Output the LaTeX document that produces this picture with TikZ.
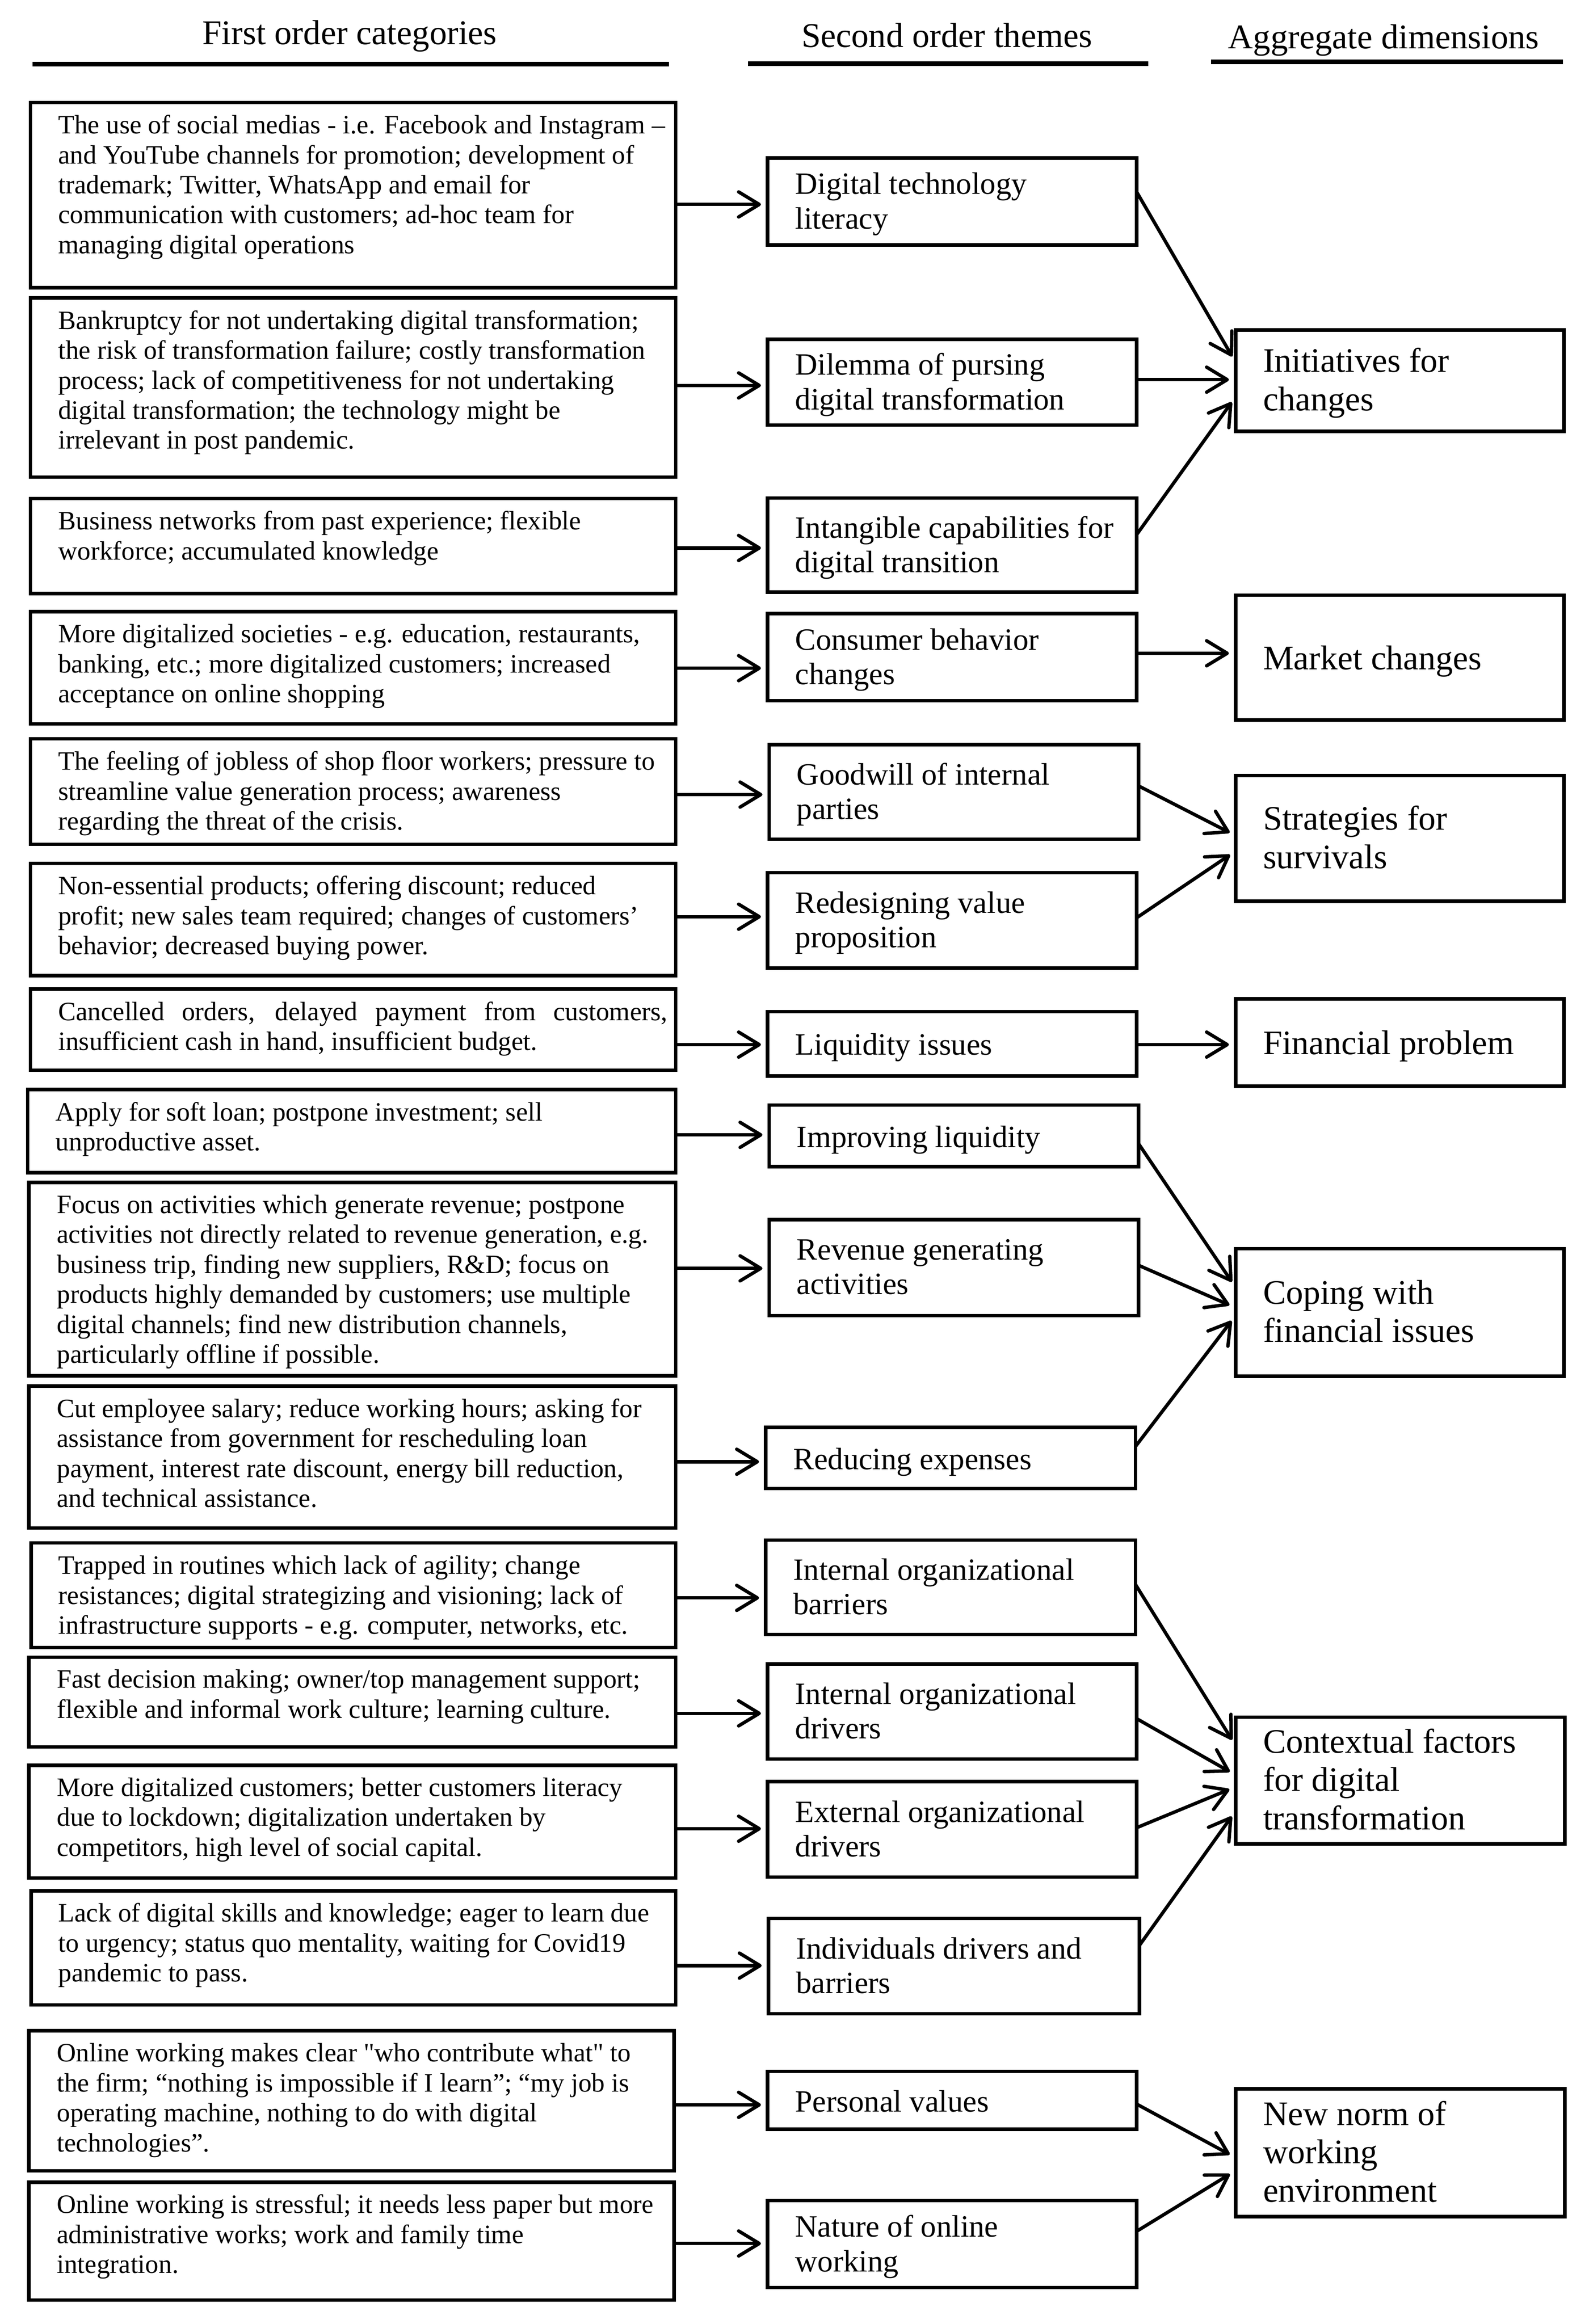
\documentclass[tikz,border=0pt]{standalone}
\usepackage{fontspec}
\setmainfont{Liberation Serif}
\usetikzlibrary{arrows.meta}
\newcommand\lfont{\fontsize{18}{20.3}\selectfont}
\newcommand\mfont{\fontsize{21}{23.4}\selectfont}
\newcommand\rfont{\fontsize{23.3}{26}\selectfont}
\newcommand\hfont{\fontsize{23.5}{28}\selectfont}
\begin{document}
\begin{tikzpicture}[x=1pt,y=-1pt,
  bx/.style={draw, line width=2.4pt, inner sep=0pt, outer sep=0pt, anchor=north west},
  lt/.style={anchor=north west, align=left, inner sep=0pt, font=\lfont, yshift=-2pt, execute at begin node=\strut},
  mt/.style={anchor=west, align=left, inner sep=0pt, font=\mfont, yshift=-3pt, execute at begin node=\strut, execute at end node=\strut},
  rt/.style={anchor=west, align=left, inner sep=0pt, font=\rfont, yshift=-3pt, execute at begin node=\strut, execute at end node=\strut},
  hd/.style={anchor=base, inner sep=0pt, font=\hfont},
  arr/.style={line width=2.3pt, -{Straight Barb[length=14pt,width=17pt,round]}, shorten >=4.5pt},
  ul/.style={line width=3.2pt}
]
\useasboundingbox (0,0) rectangle (1077,1575.6);

% headers
\node[hd] (H1) at (237,30) {First order categories};
\node[hd] (H2) at (641.8,32) {Second order themes};
\node[hd] (H3) at (937.9,33) {Aggregate dimensions};
\draw[ul] (22,43.5) -- (453.5,43.5);
\draw[ul] (507,43.2) -- (778.4,43.2);
\draw[ul] (821,42) -- (1059.5,42);

% first order boxes
\node[bx, minimum width=437.4pt, minimum height=125.5pt] (L1) at (20.6,69.5) {};
\node[bx, minimum width=437.4pt, minimum height=121.5pt] (L2) at (20.6,202) {};
\node[bx, minimum width=437.4pt, minimum height=64.4pt] (L3) at (20.6,338) {};
\node[bx, minimum width=437.4pt, minimum height=76.1pt] (L4) at (20.6,414.7) {};
\node[bx, minimum width=437.4pt, minimum height=71.5pt] (L5) at (20.6,500.9) {};
\node[bx, minimum width=437.4pt, minimum height=76.1pt] (L6) at (20.6,585.3) {};
\node[bx, minimum width=437.4pt, minimum height=54.9pt] (L7) at (20.6,670.6) {};
\node[bx, minimum width=439.3pt, minimum height=56.4pt] (L8) at (18.7,738.7) {};
\node[bx, minimum width=438.4pt, minimum height=131.1pt] (L9) at (19.6,801.6) {};
\node[bx, minimum width=438.4pt, minimum height=96.3pt] (L10) at (19.6,939.7) {};
\node[bx, minimum width=436.8pt, minimum height=70.9pt] (L11) at (21.2,1046) {};
\node[bx, minimum width=438.4pt, minimum height=60.9pt] (L12) at (19.6,1123.5) {};
\node[bx, minimum width=438.4pt, minimum height=76.4pt] (L13) at (19.6,1196.8) {};
\node[bx, minimum width=436.8pt, minimum height=77.4pt] (L14) at (21.2,1281.8) {};
\node[bx, minimum width=437.4pt, minimum height=94.9pt] (L15) at (19.6,1376.8) {};
\node[bx, minimum width=437.4pt, minimum height=79.9pt] (L16) at (19.6,1479.4) {};

\node[lt] (L1t) at (39.3,75.8) {The use of social medias - i.e. Facebook and Instagram –\\and YouTube channels for promotion; development of\\trademark; Twitter, WhatsApp and email for\\communication with customers; ad-hoc team for\\managing digital operations};
\node[lt] (L2t) at (39.3,208.3) {Bankruptcy for not undertaking digital transformation;\\the risk of transformation failure; costly transformation\\process; lack of competitiveness for not undertaking\\digital transformation; the technology might be\\irrelevant in post pandemic.};
\node[lt] (L3t) at (39.3,344.3) {Business networks from past experience; flexible\\workforce; accumulated knowledge};
\node[lt] (L4t) at (39.3,421) {More digitalized societies - e.g. education, restaurants,\\banking, etc.; more digitalized customers; increased\\acceptance on online shopping};
\node[lt] (L5t) at (39.3,507.2) {The feeling of jobless of shop floor workers; pressure to\\streamline value generation process; awareness\\regarding the threat of the crisis.};
\node[lt] (L6t) at (39.3,591.6) {Non-essential products; offering discount; reduced\\profit; new sales team required; changes of customers’\\behavior; decreased buying power.};
\node[lt] (L7t) at (39.3,676.9) {\makebox[413pt][s]{Cancelled orders, delayed payment from customers,}\\insufficient cash in hand, insufficient budget.};
\node[lt] (L8t) at (37.6,745) {Apply for soft loan; postpone investment; sell\\unproductive asset.};
\node[lt] (L9t) at (38.4,807.9) {Focus on activities which generate revenue; postpone\\activities not directly related to revenue generation, e.g.\\business trip, finding new suppliers, R\&D; focus on\\products highly demanded by customers; use multiple\\digital channels; find new distribution channels,\\particularly offline if possible.};
\node[lt] (L10t) at (38.4,946) {Cut employee salary; reduce working hours; asking for\\assistance from government for rescheduling loan\\payment, interest rate discount, energy bill reduction,\\and technical assistance.};
\node[lt] (L11t) at (39.4,1052.3) {Trapped in routines which lack of agility; change\\resistances; digital strategizing and visioning; lack of\\infrastructure supports - e.g. computer, networks, etc.};
\node[lt] (L12t) at (38.4,1129.8) {Fast decision making; owner/top management support;\\flexible and informal work culture; learning culture.};
\node[lt] (L13t) at (38.4,1203.1) {More digitalized customers; better customers literacy\\due to lockdown; digitalization undertaken by\\competitors, high level of social capital.};
\node[lt] (L14t) at (39.4,1288.1) {Lack of digital skills and knowledge; eager to learn due\\to urgency; status quo mentality, waiting for Covid19\\pandemic to pass.};
\node[lt] (L15t) at (38.4,1383.1) {Online working makes clear \textquotedbl who contribute what\textquotedbl\ to\\the firm; “nothing is impossible if I learn”; “my job is\\operating machine, nothing to do with digital\\technologies”.};
\node[lt] (L16t) at (38.4,1485.7) {Online working is stressful; it needs less paper but more\\administrative works; work and family time\\integration.};

% second order boxes
\node[bx, minimum width=250.2pt, minimum height=58.8pt] (M1) at (520.3,107.2) {};
\node[bx, minimum width=250.2pt, minimum height=58.2pt] (M2) at (520.3,230) {};
\node[bx, minimum width=250.2pt, minimum height=63.8pt] (M3) at (520.3,337.7) {};
\node[bx, minimum width=250.2pt, minimum height=59pt] (M4) at (520.3,416) {};
\node[bx, minimum width=250.4pt, minimum height=64.1pt] (M5) at (521.3,504.9) {};
\node[bx, minimum width=250.2pt, minimum height=64.7pt] (M6) at (520.3,591.6) {};
\node[bx, minimum width=250.2pt, minimum height=43.6pt] (M7) at (520.3,685.8) {};
\node[bx, minimum width=250.4pt, minimum height=41.8pt] (M8) at (521.3,749.2) {};
\node[bx, minimum width=250.4pt, minimum height=65.1pt] (M9) at (521.3,826.8) {};
\node[bx, minimum width=250.7pt, minimum height=41.4pt] (M10) at (519,967.8) {};
\node[bx, minimum width=250.7pt, minimum height=64pt] (M11) at (519,1044.1) {};
\node[bx, minimum width=250.2pt, minimum height=64.4pt] (M12) at (520.3,1128.1) {};
\node[bx, minimum width=250.2pt, minimum height=64.8pt] (M13) at (520.3,1207.8) {};
\node[bx, minimum width=251.6pt, minimum height=64.7pt] (M14) at (520.8,1300.6) {};
\node[bx, minimum width=250.2pt, minimum height=39.2pt] (M15) at (520.3,1404.3) {};
\node[bx, minimum width=250.2pt, minimum height=59pt] (M16) at (520.3,1491.9) {};

\node[mt] (M1t) at ([xshift=18.6pt]M1.west) {Digital technology\\literacy};
\node[mt] (M2t) at ([xshift=18.6pt]M2.west) {Dilemma of pursing\\digital transformation};
\node[mt] (M3t) at ([xshift=18.6pt]M3.west) {Intangible capabilities for\\digital transition};
\node[mt] (M4t) at ([xshift=18.6pt]M4.west) {Consumer behavior\\changes};
\node[mt] (M5t) at ([xshift=18.6pt]M5.west) {Goodwill of internal\\parties};
\node[mt] (M6t) at ([xshift=18.6pt]M6.west) {Redesigning value\\proposition};
\node[mt] (M7t) at ([xshift=18.6pt]M7.west) {Liquidity issues};
\node[mt] (M8t) at ([xshift=18.6pt]M8.west) {Improving liquidity};
\node[mt] (M9t) at ([xshift=18.6pt]M9.west) {Revenue generating\\activities};
\node[mt] (M10t) at ([xshift=18.6pt]M10.west) {Reducing expenses};
\node[mt] (M11t) at ([xshift=18.6pt]M11.west) {Internal organizational\\barriers};
\node[mt] (M12t) at ([xshift=18.6pt]M12.west) {Internal organizational\\drivers};
\node[mt] (M13t) at ([xshift=18.6pt]M13.west) {External organizational\\drivers};
\node[mt] (M14t) at ([xshift=18.6pt]M14.west) {Individuals drivers and\\barriers};
\node[mt] (M15t) at ([xshift=18.6pt]M15.west) {Personal values};
\node[mt] (M16t) at ([xshift=18.6pt]M16.west) {Nature of online\\working};

% aggregate boxes
\node[bx, minimum width=222.5pt, minimum height=68.7pt] (R1) at (837.5,223.7) {};
\node[bx, minimum width=222.5pt, minimum height=84.7pt] (R2) at (837.5,403.5) {};
\node[bx, minimum width=222.5pt, minimum height=85.2pt] (R3) at (837.5,525.8) {};
\node[bx, minimum width=222.5pt, minimum height=59.2pt] (R4) at (837.5,677.2) {};
\node[bx, minimum width=222.5pt, minimum height=86.4pt] (R5) at (837.5,846.6) {};
\node[bx, minimum width=223.2pt, minimum height=85.8pt] (R6) at (837.5,1164.2) {};
\node[bx, minimum width=223.2pt, minimum height=86.6pt] (R7) at (837.5,1416.2) {};

\node[rt] (R1t) at ([xshift=18.5pt]R1.west) {Initiatives for\\changes};
\node[rt] (R2t) at ([xshift=18.5pt]R2.west) {Market changes};
\node[rt] (R3t) at ([xshift=18.5pt]R3.west) {Strategies for\\survivals};
\node[rt] (R4t) at ([xshift=18.5pt]R4.west) {Financial problem};
\node[rt] (R5t) at ([xshift=18.5pt]R5.west) {Coping with\\financial issues};
\node[rt] (R6t) at ([xshift=18.5pt]R6.west) {Contextual factors\\for digital\\transformation};
\node[rt] (R7t) at ([xshift=18.5pt]R7.west) {New norm of\\working\\environment};

% first -> second
\draw[arr] (L1.east |- 0,138.6) -- (M1.west |- 0,138.6);
\draw[arr] (L2.east |- 0,261.3) -- (M2.west |- 0,261.3);
\draw[arr] (L3.east |- 0,371.5) -- (M3.west |- 0,371.5);
\draw[arr] (L4.east |- 0,453) -- (M4.west |- 0,453);
\draw[arr] (L5.east |- 0,538.7) -- (M5.west |- 0,538.7);
\draw[arr] (L6.east |- 0,621.5) -- (M6.west |- 0,621.5);
\draw[arr] (L7.east |- 0,708.2) -- (M7.west |- 0,708.2);
\draw[arr] (L8.east |- 0,769.4) -- (M8.west |- 0,769.4);
\draw[arr] (L9.east |- 0,859.9) -- (M9.west |- 0,859.9);
\draw[arr] (L10.east |- 0,991) -- (M10.west |- 0,991);
\draw[arr] (L11.east |- 0,1083.3) -- (M11.west |- 0,1083.3);
\draw[arr] (L12.east |- 0,1161.6) -- (M12.west |- 0,1161.6);
\draw[arr] (L13.east |- 0,1239.8) -- (M13.west |- 0,1239.8);
\draw[arr] (L14.east |- 0,1332.6) -- (M14.west |- 0,1332.6);
\draw[arr] (L15.east |- 0,1427) -- (M15.west |- 0,1427);
\draw[arr] (L16.east |- 0,1521) -- (M16.west |- 0,1521);

% second -> aggregate
\draw[arr] (M1.east |- 0,130.2) -- (R1.west |- 0,245.6);
\draw[arr] (M2.east |- 0,257.4) -- (R1.west |- 0,257.4);
\draw[arr] (M3.east |- 0,362.4) -- (R1.west |- 0,269);
\draw[arr] (M4.east |- 0,442.9) -- (R2.west |- 0,442.9);
\draw[arr] (M5.east |- 0,532.8) -- (R3.west |- 0,566.5);
\draw[arr] (M6.east |- 0,622.2) -- (R3.west |- 0,577);
\draw[arr] (M7.east |- 0,708.2) -- (R4.west |- 0,708.2);
\draw[arr] (M8.east |- 0,775.3) -- (R5.west |- 0,872.8);
\draw[arr] (M9.east |- 0,857.8) -- (R5.west |- 0,886.6);
\draw[arr] (M10.east |- 0,980.6) -- (R5.west |- 0,891.9);
\draw[arr] (M11.east |- 0,1074.3) -- (R6.west |- 0,1183.4);
\draw[arr] (M12.east |- 0,1165.2) -- (R6.west |- 0,1203.4);
\draw[arr] (M13.east |- 0,1239.1) -- (R6.west |- 0,1211.4);
\draw[arr] (M14.east |- 0,1318.8) -- (R6.west |- 0,1227.8);
\draw[arr] (M15.east |- 0,1426.5) -- (R7.west |- 0,1462.8);
\draw[arr] (M16.east |- 0,1512.7) -- (R7.west |- 0,1471.6);
\end{tikzpicture}
\end{document}
